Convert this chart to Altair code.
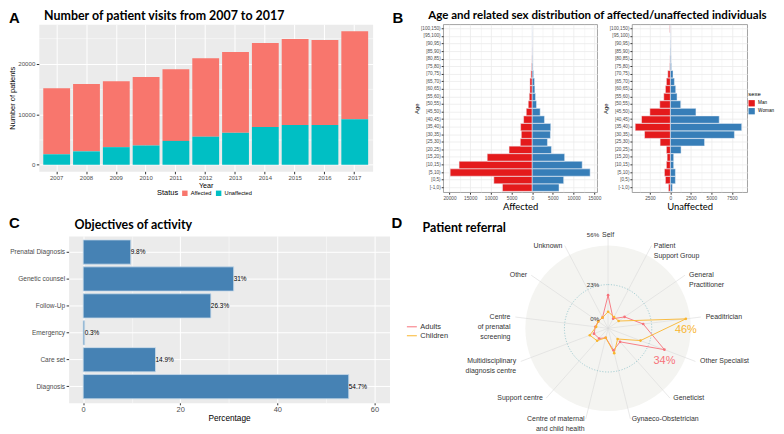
import math
import altair as alt
import pandas as pd

# ---------------- data: panel A ----------------
years = ["2007", "2008", "2009", "2010", "2011", "2012", "2013", "2014", "2015", "2016", "2017"]
visits_affected = [13090, 13350, 13040, 13540, 14180, 15530, 16000, 16640, 17020, 16830, 17410]
visits_unaffected = [2070, 2650, 3480, 3810, 4720, 5550, 6320, 7480, 7870, 7870, 9030]

# ---------------- data: panel B ----------------
age_bins = ["[-1,0)", "[0,5)", "[5,10)", "[10,15)", "[15,20)", "[20,25)", "[25,30)", "[30,35)",
            "[35,40)", "[40,45)", "[45,50)", "[50,55)", "[55,60)", "[60,65)", "[65,70)", "[70,75)",
            "[75,80)", "[80,85)", "[85,90)", "[90,95)", "[95,100)", "[100,150)"]
affected_men = [7200, 9280, 19840, 17680, 10880, 5600, 2880, 2640, 2800, 2080, 1440, 960,
                720, 560, 560, 320, 160, 80, 60, 30, 10, 5]
affected_women = [6480, 7600, 14000, 12080, 7840, 4640, 3680, 4400, 4480, 2960, 1920, 1040,
                  800, 640, 560, 320, 160, 100, 60, 30, 20, 10]
unaffected_men = [240, 610, 730, 490, 400, 490, 1260, 3160, 4300, 3530, 2510, 1300,
                  810, 610, 490, 320, 80, 60, 40, 30, 20, 80]
unaffected_women = [240, 610, 610, 400, 400, 1300, 4170, 7820, 8710, 5960, 3120, 1260,
                    810, 650, 490, 320, 120, 80, 60, 40, 20, 10]

# ---------------- data: panel C ----------------
objectives = ["Prenatal Diagnosis", "Genetic counsel", "Follow-Up", "Emergency", "Care set", "Diagnosis"]
objective_pct = [9.8, 31, 26.3, 0.3, 14.9, 54.7]

# ---------------- data: panel D ----------------
referral_sources = ["Self", "Patient\nSupport Group", "General\nPractitioner", "Peaditrician",
                    "Other  Specialist", "Geneticist", "Gynaeco-Obstetrician",
                    "Centre of maternal\nand child health", "Support centre",
                    "Multidisciplinary\ndiagnosis centre", "Centre\nof prenatal\nscreening",
                    "Other", "Unknown"]
referral_adults = [16, 1.2, 7.3, 17.5, 34, 6, 9, 0.5, 3, 4, 2.5, 2, 2]
referral_children = [5, 2.5, 2.5, 46, 17, 3.5, 11, 0.5, 5, 7, 2, 2, 2]
radar_grid = [0, 23, 56]

LAB = "Liberation Sans"
HEAD = "Lato"
TICK_TXT = "#4D4D4D"
TICK_COL = "#333333"

H_A, H_B, H_C = 148, 169, 168


def txt(text, x, y, size, font=HEAD, weight="bold", align="left", color="black"):
    return alt.Chart(pd.DataFrame({"t": [text]})).mark_text(
        align=align, baseline="middle", font=font, fontSize=size, fontWeight=weight, color=color
    ).encode(text="t:N", x=alt.value(x), y=alt.value(y))


def is_major(step):
    return f"datum.value % {step} === 0"


def cond(step, major_val, minor_val):
    return {"condition": {"test": is_major(step), "value": major_val}, "value": minor_val}


def spacer(w, h):
    return alt.Chart(pd.DataFrame({"v": [0]})).mark_point(opacity=0, size=1).encode(
        x=alt.X("v:Q", axis=None), y=alt.Y("v:Q", axis=None)).properties(width=w, height=h)


# ================= Panel A =================
nA = len(years)
dfA = pd.DataFrame({
    "Year": years * 2,
    "Status": ["Affected"] * nA + ["Unaffected"] * nA,
    "Patients": visits_affected + visits_unaffected,
    "rank": [1] * nA + [0] * nA,
})
barsA = alt.Chart(dfA).mark_bar().encode(
    x=alt.X("Year:N", scale=alt.Scale(paddingInner=0.1, paddingOuter=0.15),
            axis=alt.Axis(title="Year", labelAngle=0, labelFontSize=6, labelColor=TICK_TXT,
                          tickColor=TICK_COL, tickSize=2.5, labelPadding=1, titleFontSize=7.2,
                          titleFontWeight="normal", titleColor="black", titlePadding=1,
                          grid=True, gridColor="white", gridWidth=1, domain=False)),
    y=alt.Y("Patients:Q", stack="zero",
            scale=alt.Scale(domain=[-1300, 27800], nice=False, zero=False),
            axis=alt.Axis(title="Number of patients", values=list(range(0, 27501, 5000)), format="d",
                          labelExpr=f"{is_major(10000)} ? datum.label : ''",
                          gridColor="white", gridWidth=cond(10000, 1.0, 0.5),
                          tickOpacity=cond(10000, 1, 0), tickColor=TICK_COL, tickSize=2.5,
                          labelFontSize=6.2, labelColor=TICK_TXT, labelPadding=1.5,
                          titleFontSize=7.5, titleFontWeight="normal", titleColor="black",
                          titlePadding=1, domain=False)),
    color=alt.Color("Status:N", scale=alt.Scale(domain=["Affected", "Unaffected"],
                                                range=["#F8766D", "#00BFC4"]),
                    legend=alt.Legend(orient="none", legendX=119, legendY=H_A + 19, direction="horizontal",
                                      title="Status", titleOrient="left", titleFontSize=7.5,
                                      titleFontWeight="normal", titleColor="black", labelFontSize=5.7,
                                      labelColor="black", symbolType="square", symbolSize=30,
                                      symbolStrokeWidth=0, symbolOpacity=1, columnPadding=4,
                                      labelOffset=3, titlePadding=3)),
    order=alt.Order("rank:Q", sort="ascending"),
)
A = alt.layer(
    barsA,
    txt("Number of patient visits from 2007 to 2017", 5.3, -8, 12.5),
    txt("A", -30, -6, 15, font=LAB),
).properties(width=336, height=H_A, view=alt.ViewBackground(fill="#EBEBEB", stroke="transparent"))


# ================= Panel B =================
def pyramid(men, women, x_domain, major, minor, xtitle, legend, width, extra=()):
    n = len(age_bins)
    df = pd.DataFrame({"Age": age_bins * 2, "sex": ["Man"] * n + ["Woman"] * n,
                       "count": men + women})
    start = math.ceil(x_domain[0] / minor) * minor
    vals = list(range(start, int(x_domain[1]) + 1, minor))
    bars = alt.Chart(df).transform_calculate(
        signed="datum.sex === 'Man' ? -datum.count : datum.count"
    ).mark_bar(stroke="#EEF3F8", strokeWidth=0.5).encode(
        y=alt.Y("Age:N", scale=alt.Scale(domain=age_bins[::-1], paddingInner=0.03, paddingOuter=0.115),
                axis=alt.Axis(title="Age", grid=True, gridColor="#EBEBEB", gridWidth=0.8,
                              labelFontSize=4.7, labelColor=TICK_TXT, tickColor=TICK_COL, tickSize=2,
                              labelPadding=1, titleFontSize=6, titleFontWeight="normal",
                              titleColor="black", titlePadding=1, domain=False)),
        x=alt.X("signed:Q", stack=None, scale=alt.Scale(domain=x_domain, nice=False, zero=False),
                axis=alt.Axis(title=xtitle, values=vals,
                              labelExpr=f"{is_major(major)} ? format(abs(datum.value), 'd') : ''",
                              gridColor="#EBEBEB", gridWidth=cond(major, 0.8, 0.4),
                              tickOpacity=cond(major, 1, 0), tickColor=TICK_COL, tickSize=2,
                              labelFontSize=4.8, labelColor=TICK_TXT, labelPadding=1,
                              titleFont=HEAD, titleFontSize=9.5, titleFontWeight="normal",
                              titleColor="black", titlePadding=2, domain=False)),
        color=alt.Color("sex:N", scale=alt.Scale(domain=["Man", "Woman"], range=["#E41A1C", "#377EB8"]),
                        legend=legend),
    )
    return alt.layer(bars, *extra).properties(
        width=width, height=H_B,
        view=alt.ViewBackground(fill="white", stroke="#8C8C8C", strokeWidth=0.8))


legB = alt.Legend(orient="none", legendX=117, legendY=67, title="sexe", titleFontSize=6,
                  titleFontWeight="normal", titleColor="black", labelFontSize=4.7, labelColor="black",
                  symbolType="square", symbolSize=40, symbolStrokeWidth=0, symbolOpacity=1,
                  rowPadding=1, labelOffset=3, titlePadding=3)
B_aff = pyramid(affected_men, affected_women, [-21530, 15700], 5000, 2500, "Affected", None, 155,
                extra=(txt("Age and related sex distribution of affected/unaffected individuals",
                           -15, -8, 11.6),
                       txt("B", -51, -6, 15, font=LAB)))
B_unaff = pyramid(unaffected_men, unaffected_women, [-4700, 9380], 2500, 1250, "Unaffected", legB, 116)

# ================= Panel C =================
dfC = pd.DataFrame({"Objective": objectives, "Percentage": objective_pct,
                    "label": [f"{v:g}%" for v in objective_pct]})
yC = alt.Y("Objective:N", sort=objectives, scale=alt.Scale(paddingInner=0.1, paddingOuter=0.15),
           axis=alt.Axis(title=None, grid=True, gridColor="white", gridWidth=1, labelFontSize=6.6,
                         labelColor=TICK_TXT, tickColor=TICK_COL, tickSize=2.5, labelPadding=1.5,
                         domain=False))
xC = alt.X("Percentage:Q", scale=alt.Scale(domain=[-3, 63.1], nice=False, zero=False),
           axis=alt.Axis(title="Percentage", values=list(range(0, 61, 10)),
                         labelExpr=f"{is_major(20)} ? datum.label : ''",
                         gridColor="white", gridWidth=cond(20, 1.0, 0.5), tickOpacity=cond(20, 1, 0),
                         tickColor=TICK_COL, tickSize=2, labelFontSize=7.5, labelColor=TICK_TXT,
                         labelPadding=0.5, titleFontSize=8.3, titleFontWeight="normal",
                         titleColor="black", titlePadding=0.5, domain=False))
barsC = alt.Chart(dfC).mark_bar(color="#4682B4", stroke="#C9DAEA", strokeWidth=0.8).encode(y=yC, x=xC)
labelsC = alt.Chart(dfC).mark_text(align="left", baseline="middle", font=LAB, fontSize=6.5,
                                   color="black").encode(
    y=alt.Y("Objective:N", sort=objectives), x="Percentage:Q", text="label:N")
C_W = 323
C = alt.layer(
    barsC, labelsC,
    txt("Objectives of activity", 6, -11, 12.5),
    txt("C", -60, -13, 15, font=LAB),
).properties(width=C_W, height=H_C, view=alt.ViewBackground(fill="#EBEBEB", stroke="transparent"))

# ================= Panel D (radar) =================
OFF = 6
RMAX = radar_grid[-1] + OFF
R_PX = 94
k = R_PX / RMAX  # pixels per radial unit
D_W, D_H = 355, 193
CX, CY = 200, 93  # radar centre inside the view (px)
xsD = alt.Scale(domain=[-CX / k, (D_W - CX) / k], nice=False, zero=False)
ysD = alt.Scale(domain=[-(D_H - CY) / k, CY / k], nice=False, zero=False)
nref = len(referral_sources)
ANG = f"datum.idx * 2 * PI / {nref}"

dfD = pd.DataFrame({"source": referral_sources * 2, "idx": list(range(nref)) * 2,
                    "series": ["Adults"] * nref + ["Children"] * nref,
                    "value": referral_adults + referral_children})
dfSrc = pd.DataFrame({"source": referral_sources, "idx": list(range(nref))})
dfGrid = pd.DataFrame({"g": radar_grid, "lab": [f"{g}%" for g in radar_grid]})


def X(f):
    return alt.X(f, scale=xsD, axis=None)


def Y(f):
    return alt.Y(f, scale=ysD, axis=None)


legD = alt.Legend(orient="none", legendX=-3, legendY=CY - 7, title=None, symbolType="stroke",
                  symbolSize=100, symbolStrokeWidth=1, labelFontSize=7.5, labelColor="#333333",
                  rowPadding=0, labelOffset=3)
colD = alt.Color("series:N", scale=alt.Scale(domain=["Adults", "Children"], range=["#F7727A", "#F9B52E"]),
                 legend=legD)

disk = alt.Chart(pd.DataFrame({"c": [0]})).mark_point(
    shape="circle", filled=True, size=math.pi * (RMAX * k) ** 2, color="#F4F4F1", opacity=1, strokeWidth=0
).encode(x=X("c:Q"), y=Y("c:Q"))
spokes = alt.Chart(dfSrc).transform_calculate(
    a=ANG, sx=f"{RMAX} * sin(datum.a)", sy=f"{RMAX} * cos(datum.a)", z="0"
).mark_rule(color="#DADADA", strokeWidth=0.6).encode(x=X("z:Q"), y=Y("z:Q"), x2="sx:Q", y2="sy:Q")
ring = alt.Chart(alt.sequence(0, 361, 3, as_="deg")).transform_calculate(
    rx=f"{radar_grid[1] + OFF} * sin(datum.deg * PI / 180)",
    ry=f"{radar_grid[1] + OFF} * cos(datum.deg * PI / 180)",
).mark_line(color="#93C4CB", strokeWidth=0.8, strokeDash=[1.2, 1.6]).encode(
    x=X("rx:Q"), y=Y("ry:Q"), order="deg:Q")

baseD = alt.Chart(dfD).transform_calculate(
    a=ANG, r=f"datum.value + {OFF}", px="datum.r * sin(datum.a)", py="datum.r * cos(datum.a)")
linesD = baseD.mark_line(interpolate="linear-closed", strokeWidth=0.9).encode(
    x=X("px:Q"), y=Y("py:Q"), color=colD, order="idx:Q", detail="series:N")
ptsD = baseD.mark_point(filled=True, size=7, opacity=1).encode(x=X("px:Q"), y=Y("py:Q"), color=colD)
maxD = baseD.transform_joinaggregate(mx="max(value)", groupby=["series"]).transform_filter(
    "datum.value === datum.mx").transform_calculate(lab="format(datum.value, 'd') + '%'").mark_text(
    font=LAB, fontSize=11, dy=11, align="center", baseline="middle").encode(
    x=X("px:Q"), y=Y("py:Q"), text="lab:N", color=colD)
gridLab = alt.Chart(dfGrid).transform_calculate(gy=f"datum.g + {OFF}", z="0").mark_text(
    align="right", baseline="middle", font=LAB, fontSize=6.2, color="#333333", dx=-9).encode(
    x=X("z:Q"), y=Y("gy:Q"), text="lab:N")

LRX, LRY = 99 / k, 94 / k
labBase = alt.Chart(dfSrc).transform_calculate(
    a=ANG, s="sin(datum.a)", lx=f"{LRX} * sin(datum.a)", ly=f"{LRY} * cos(datum.a)")


def cat_labels(filt, align):
    return labBase.transform_filter(filt).mark_text(
        align=align, baseline="middle", lineBreak="\n", lineHeight=10, font=LAB, fontSize=7,
        color="#333333").encode(x=X("lx:Q"), y=Y("ly:Q"), text="source:N")


D = alt.layer(
    disk, spokes, ring, linesD, ptsD, gridLab,
    cat_labels("datum.s > 0.05", "left"),
    cat_labels("datum.s < -0.05", "right"),
    cat_labels("abs(datum.s) <= 0.05", "center"),
    maxD,
    txt("D", -18, -13, 15, font=LAB),
    txt("Patient referral", 13.3, -8, 12.5),
).properties(width=D_W, height=D_H)

row1 = alt.hconcat(A, spacer(1, 1), B_aff, B_unaff, spacing=35, bounds="flush").resolve_scale(
    color="independent")
row2 = alt.hconcat(spacer(10, 1), C, D, spacing=20, bounds="flush").resolve_scale(color="independent")
chart = alt.vconcat(row1, row2, spacing=3).resolve_scale(color="independent").properties(
    padding=0
).configure_view(stroke="transparent").configure_axis(
    labelFont=LAB, titleFont=LAB
).configure_legend(labelFont=LAB, titleFont=LAB)

chart.save("out.html", embed_options={"renderer": "svg", "actions": False})
